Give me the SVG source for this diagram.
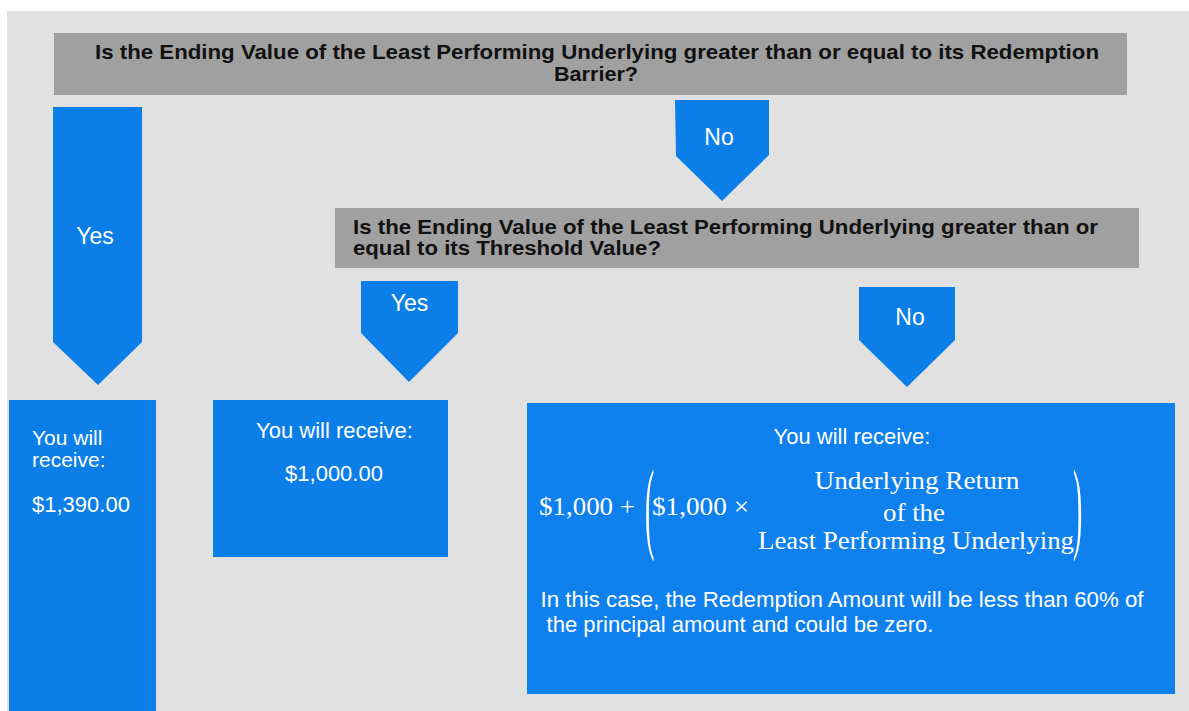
<svg xmlns="http://www.w3.org/2000/svg" width="1189" height="711" viewBox="0 0 1189 711">
<style>
.q{fill:#a0a0a0}
.qt{font-family:"Liberation Sans",Arial,sans-serif;font-weight:bold;font-size:21px;fill:#111}
.qt2{font-family:"Liberation Sans",Arial,sans-serif;font-weight:bold;font-size:20px;fill:#111}
.blue{fill:#0b7ee8}
.wt{font-family:"Liberation Sans",Arial,sans-serif;font-size:22px;fill:#fff}
.wts{font-family:"Liberation Sans",Arial,sans-serif;font-size:21px;fill:#fff}
.lbl{font-family:"Liberation Sans",Arial,sans-serif;font-size:23px;fill:#fff;text-anchor:middle}
.ser{font-family:"Liberation Serif","Times New Roman",serif;font-size:25px;fill:#fff}
.mid{text-anchor:middle}
</style>
<rect x="0" y="0" width="1189" height="711" fill="#ffffff"/>
<rect x="7" y="11" width="1182" height="700" fill="#e1e1e1"/>

<g id="q1">
<rect class="q" x="54" y="33" width="1073" height="62"/>
<text class="qt mid" x="597" y="59" textLength="1004" lengthAdjust="spacingAndGlyphs">Is the Ending Value of the Least Performing Underlying greater than or equal to its Redemption</text>
<text class="qt mid" x="596" y="81" textLength="84" lengthAdjust="spacingAndGlyphs">Barrier?</text>
</g>

<g id="q2">
<rect class="q" x="335" y="208" width="804" height="60"/>
<text class="qt2" x="353" y="234" textLength="745" lengthAdjust="spacingAndGlyphs">Is the Ending Value of the Least Performing Underlying greater than or</text>
<text class="qt2" x="353" y="255" textLength="308" lengthAdjust="spacingAndGlyphs">equal to its Threshold Value?</text>
</g>

<g id="connectors">
<g id="yes1">
<polygon class="blue" points="53,107 142,107 142,342 98,385 53,342"/>
<text class="lbl" x="95" y="244">Yes</text>
</g>
<g id="no1">
<polygon class="blue" points="675,100 769,100 769,155 722,201 676,156"/>
<text class="lbl" x="719" y="145">No</text>
</g>
<g id="yes2">
<polygon class="blue" points="361,281 458,281 458,333 409,382 361,333"/>
<text class="lbl" x="409.5" y="311">Yes</text>
</g>
<g id="no2">
<polygon class="blue" points="859,287 955,287 955,340 907,387 859,340"/>
<text class="lbl" x="910" y="325">No</text>
</g>
</g>

<g id="out1">
<rect class="blue" x="9" y="400" width="147" height="311"/>
<text class="wts" x="32" y="445">You will</text>
<text class="wts" x="32" y="467">receive:</text>
<text class="wt" x="32" y="512">$1,390.00</text>
</g>

<g id="out2">
<rect class="blue" x="213" y="400" width="235" height="157"/>
<text class="wt mid" x="334.5" y="438">You will receive:</text>
<text class="wt mid" x="334" y="481">$1,000.00</text>
</g>

<g id="out3">
<rect x="527" y="403" width="648" height="291" fill="#0f81ee"/>
<text class="wt mid" x="852" y="444">You will receive:</text>
<text class="ser" x="539" y="515" textLength="96" lengthAdjust="spacingAndGlyphs">$1,000 +</text>
<text class="ser" x="0" y="150.06" transform="translate(645,0) scale(1,3.6)" style="font-size:28px">(</text>
<text class="ser" x="652" y="515" textLength="97" lengthAdjust="spacingAndGlyphs">$1,000 ×</text>
<text class="ser mid" x="917" y="489" textLength="205" lengthAdjust="spacingAndGlyphs">Underlying Return</text>
<text class="ser mid" x="914" y="521" textLength="62" lengthAdjust="spacingAndGlyphs">of the</text>
<text class="ser mid" x="916" y="549" textLength="316" lengthAdjust="spacingAndGlyphs">Least Performing Underlying</text>
<text class="ser" x="0" y="150.06" transform="translate(1073,0) scale(1,3.6)" style="font-size:28px">)</text>
<text class="wt" x="540.5" y="607" textLength="603" lengthAdjust="spacingAndGlyphs">In this case, the Redemption Amount will be less than 60% of</text>
<text class="wt" x="546.5" y="632" textLength="387" lengthAdjust="spacingAndGlyphs">the principal amount and could be zero.</text>
</g>
</svg>
